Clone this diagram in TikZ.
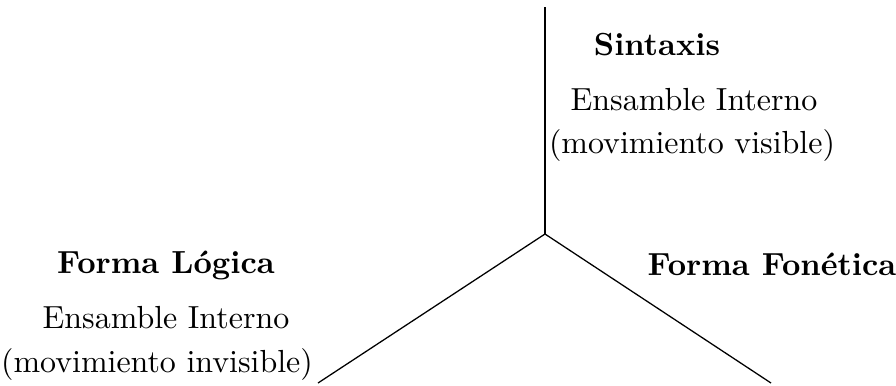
\documentclass[tikz,border=0pt]{standalone}
\usepackage{tikz}
\usetikzlibrary{positioning}
\tikzset{
  levelname/.style={
    anchor=base, font=\bfseries, inner sep=0pt
  },
  levelnote/.style={
    anchor=base, inner sep=0pt
  },
  branchline/.style={
    thin, color=black
  },
}

\begin{document}
\begin{tikzpicture}
  \useasboundingbox (-5.995, -1.661) rectangle (3.861, 2.574);

  % ── Branch points ──────────────────────────────────────────────
  \coordinate (junction) at (0, 0);
  \coordinate (sintop)   at (0, 2.497);
  \coordinate (lfend)    at (-2.497, -1.639);
  \coordinate (pfend)    at (2.486, -1.639);

  \draw[branchline] (sintop) -- (junction);
  \draw[branchline] (junction) -- (lfend);
  \draw[branchline] (junction) -- (pfend);

  % ── Sintaxis ───────────────────────────────────────────────────
  \node[levelname] (sintaxis) at (1.232, 1.969) {Sintaxis};
  \node[levelnote] (sinset)   at (1.639, 1.364) {Ensamble Interno};
  \node[levelnote] (sinmove)  at (1.617, 0.891) {(movimiento visible)};

  % ── Forma Lógica ───────────────────────────────────────────────
  \node[levelname] (lf)     at (-4.169, -0.429) {Forma Lógica};
  \node[levelnote] (lfset)  at (-4.169, -1.034) {Ensamble Interno};
  \node[levelnote] (lfmove) at (-4.268, -1.518) {(movimiento invisible)};

  % ── Forma Fonética ─────────────────────────────────────────────
  \node[levelname] (pf) at (2.497, -0.451) {Forma Fonética};
\end{tikzpicture}
\end{document}
